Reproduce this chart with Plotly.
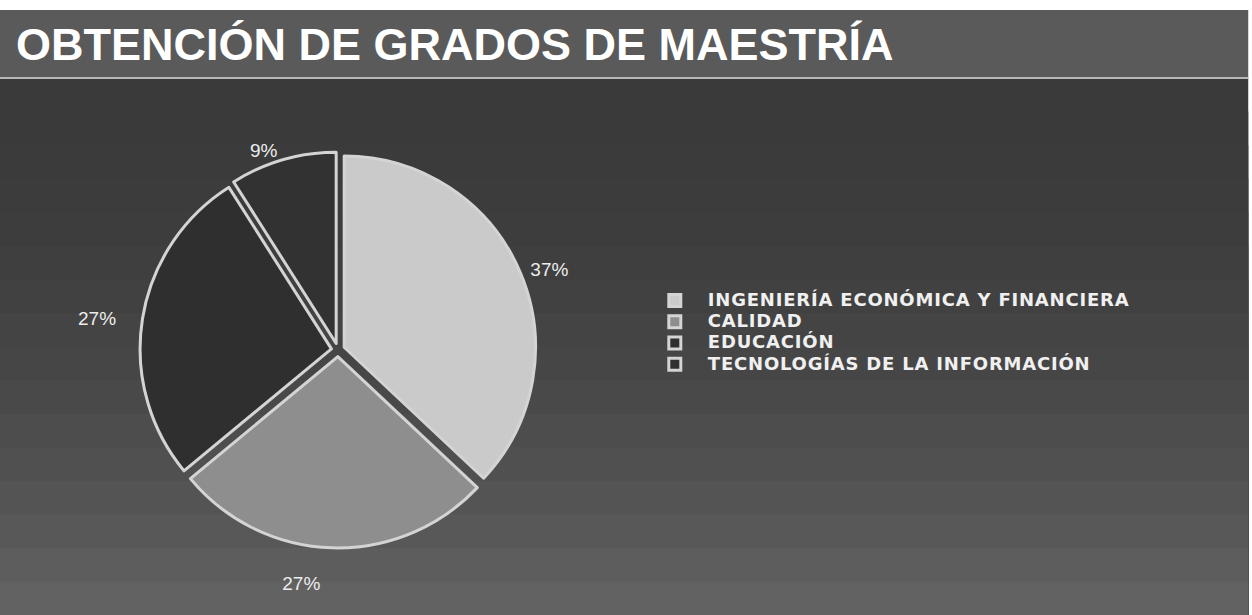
import plotly.graph_objects as go

# Data
categories = ["INGENIERÍA ECONÓMICA Y FINANCIERA", "CALIDAD", "EDUCACIÓN", "TECNOLOGÍAS DE LA INFORMACIÓN"]
values = [37, 27, 27, 9]
title_text = "OBTENCIÓN DE GRADOS DE MAESTRÍA"

W, H = 1252, 615
slice_colors = ["#cacaca", "#8e8e8e", "#2f2f2f", "#323232"]

legend_labels = [f'<span style="font-size:18px;letter-spacing:0.8px">&nbsp;&nbsp;<b>{c}</b></span>'
                 for c in categories]
text_templates = ["&nbsp;%{percent:.0%}", "&nbsp;<br>%{percent:.0%}",
                  "%{percent:.0%}&nbsp;&nbsp;&nbsp;&nbsp;", "%{percent:.0%}"]

fig = go.Figure()
fig.add_trace(go.Pie(
    labels=legend_labels,
    values=values,
    sort=False,
    direction="clockwise",
    rotation=0,
    pull=[0.035, 0.035, 0.035, 0.035],
    marker=dict(colors=slice_colors, line=dict(color="#d4d4d4", width=3)),
    textinfo="percent",
    texttemplate=text_templates,
    textposition="outside",
    outsidetextfont=dict(color="#ececec", size=19, family="Liberation Sans, Arial"),
    domain=dict(x=[0.109, 0.431], y=[0.109, 0.753]),
    hovertemplate="%{value}%<extra></extra>",
))

def py(px):
    return 1 - px / H

shapes = []
# main background gradient (overlapping bands, darker top, lighter bottom)
n = 16
top_px, bot_px = 78, H
for i in range(n):
    y0 = top_px + (bot_px - top_px) * i / n
    t = i / (n - 1)
    g = int(0x3a + (0x62 - 0x3a) * t ** 1.8)
    shapes.append(dict(type="rect", xref="paper", yref="paper", x0=0, x1=0.997,
                       y0=0, y1=py(y0), fillcolor=f"rgb({g},{g},{g})",
                       line=dict(width=0), layer="below"))
# title bar
shapes.append(dict(type="rect", xref="paper", yref="paper", x0=0, x1=0.997,
                   y0=py(78), y1=py(10), fillcolor="#5a5a5a", line=dict(width=0), layer="below"))
# separator line
shapes.append(dict(type="line", xref="paper", yref="paper", x0=0, x1=0.997,
                   y0=py(78), y1=py(78), line=dict(color="#b8b8b8", width=2), layer="below"))

fig.update_layout(
    width=W, height=H,
    margin=dict(l=0, r=0, t=0, b=0),
    paper_bgcolor="white",
    plot_bgcolor="rgba(0,0,0,0)",
    shapes=shapes,
    showlegend=True,
    legend=dict(
        x=0.523, y=py(285), xanchor="left", yanchor="top",
        font=dict(color="#f0f0f0", size=14, family="DejaVu Sans, Liberation Sans, Arial"),
        bgcolor="rgba(0,0,0,0)", tracegroupgap=0,
    ),
    annotations=[dict(
        text=f"<b>{title_text}</b>", xref="paper", yref="paper",
        x=0.011, y=py(45), xanchor="left", yanchor="middle", showarrow=False,
        font=dict(color="white", size=45, family="Liberation Sans, Arial"),
    )],
)

fig.write_html("out.html", config={"displayModeBar": False},
               post_script="document.body.style.margin='0';")
